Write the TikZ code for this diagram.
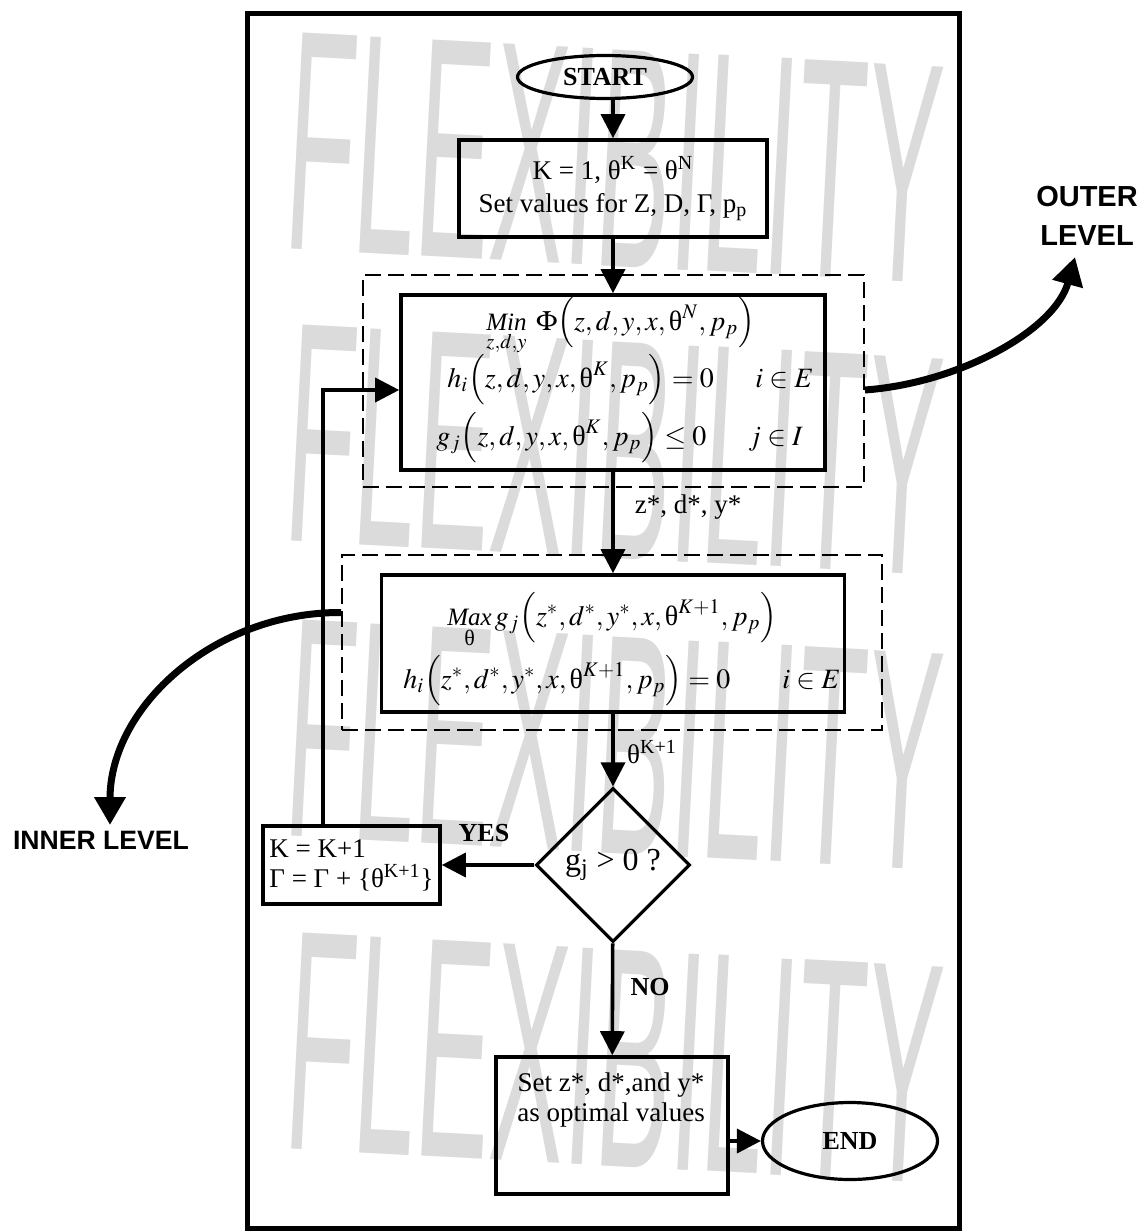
\documentclass[tikz,border=0pt]{standalone}
\usepackage{mathptmx}
\usepackage{fontspec}
\setmainfont{Liberation Serif}
\newfontfamily\lvlfont{Liberation Sans}
\usepackage{tikz}
\usetikzlibrary{shapes.geometric,arrows.meta,positioning}
\newcommand\uth{\mbox{θ}}
\newcommand\cmm{{,}\mkern2mu}
\newcommand\smallit{\fontsize{12.5}{12.5}\selectfont\itshape}
\tikzset{
  proc/.style={
    shape = rectangle,
    draw,
    line width = 1.8pt,
    inner sep = 0pt
  },
}
\tikzset{
  terminal/.style={
    shape = ellipse,
    draw,
    line width = 1.6pt,
    inner sep = 0pt,
    font = \fontsize{13}{15}\selectfont\bfseries
  },
}
\tikzset{
  decision/.style={
    shape = diamond,
    draw,
    aspect = 1,
    line width = 1.6pt,
    inner sep = 0pt
  },
}
\tikzset{
  region/.style={
    draw,
    line width = 0.9pt,
    dash pattern = on 8pt off 3.5pt,
    inner sep = 0pt
  },
  flow/.style={
    line width = 1.8pt,
    -{Triangle[length=12pt,width=12pt]}
  },
  lvlarrow/.style={
    line width = 3.5pt,
    -{Triangle[length=14pt,width=15pt]}
  },
  flowtag/.style={
    font = \fontsize{13}{15}\selectfont\bfseries,
    inner sep = 1pt
  },
  eq/.style={
    anchor = base west,
    font = \fontsize{14}{16}\selectfont,
    inner sep = 0pt
  },
  lvltext/.style={
    font = \lvlfont\bfseries\fontsize{14.5}{19.5}\selectfont,
    align = center,
    inner sep = 0pt
  },
  wmark/.style={
    font = \lvlfont\fontsize{40}{40}\selectfont,
    text = black!14,
    inner sep = 0pt,
    rotate = -3, xscale = 1.4, yscale = 3.93,
    transform shape
  }
}

\begin{document}
\begin{tikzpicture}[x=0.5pt,y=-0.5pt,
    every node/.style={font=\fontsize{13.5}{16.5}\selectfont}]
        \useasboundingbox (0,0) rectangle (1146,1231);

        % background lettering
        \foreach \wy/\wn in {158/1,450/2,745/3,1058/4}
            \node[wmark] (wm\wn) at (614,\wy) {FLEXIBILITY};

        \draw[line width=2.5pt] (247,13) rectangle (959,1228);

        \node[terminal, minimum width=87.5pt, minimum height=21.5pt] (start) at (605,77) {START};
        \node[proc, minimum width=154pt, minimum height=48.5pt, align=center] (set) at (613,188.5)
            {K = 1, θ\textsuperscript{K} = θ\textsuperscript{N}\\Set values for Z, D, Γ, p\textsubscript{p}};

        \node[region, minimum width=250.5pt, minimum height=106pt] (outerreg) at (613.5,381) {};
        \node[proc, minimum width=212pt, minimum height=87.5pt] (minbox) at (613,382.5) {};
        \node[eq] (minobj) at (486,330) {$\mathop{\mbox{\smallit Min}}\limits_{z,d,y}\;\Phi\Bigl(z\cmm d\cmm y\cmm x\cmm \uth^{N}\cmm p_p\Bigr)$};
        \node[eq] (hcon) at (447,387) {$h_i\Bigl(z\cmm d\cmm y\cmm x\cmm \uth^{K}\cmm p_p\Bigr)=0$};
        \node[eq] (hset) at (755,387) {$i\in E$};
        \node[eq] (gcon) at (436,445) {$g_j\Bigl(z\cmm d\cmm y\cmm x\cmm \uth^{K}\cmm p_p\Bigr)\le 0$};
        \node[eq] (gset) at (748,445) {$j\in I$};

        \node[region, minimum width=270pt, minimum height=87.5pt] (innerreg) at (612,642.5) {};
        \node[proc, minimum width=231.5pt, minimum height=68.5pt] (maxbox) at (613,643.5) {};
        \node[eq] (maxobj) at (447,625) {$\mathop{\mbox{\smallit Max}}\limits_{\mbox{\fontsize{11}{11}\selectfont θ}} g_j\Bigl(z^*\cmm d^*\cmm y^*\cmm x\cmm \uth^{K+1}\cmm p_p\Bigr)$};
        \node[eq] (hmax) at (403,688) {$h_i\Bigl(z^*\cmm d^*\cmm y^*\cmm x\cmm \uth^{K+1}\cmm p_p\Bigr)=0$};
        \node[eq] (hmaxset) at (782,688) {$i\in E$};

        \node[] (zlab) at (688,507) {z*, d*, y*};
        \node[] (thlab) at (652,752) {θ\textsuperscript{K+1}};

        \node[decision, minimum width=77pt, minimum height=77pt, font=\fontsize{16}{18}\selectfont] (dec) at (613,865) {g\textsubscript{j} > 0 ?};
        \node[proc, minimum width=88.5pt, minimum height=39pt, align=left, font=\fontsize{13.5}{15}\selectfont] (kbox) at (351.5,865)
            {K = K+1\\Γ = Γ + \{θ\textsuperscript{K+1}\}};
        \node[flowtag] (yes) at (484,833) {YES};
        \node[flowtag] (no) at (650,987) {NO};

        \node[proc, minimum width=116pt, minimum height=68.5pt] (final) at (612,1125.5) {};
        \node[align=center, inner sep=0pt, font=\fontsize{13.5}{15}\selectfont] (finaltxt) at (611,1100) {Set z*, d*,and y*\\as optimal values};
        \node[terminal, minimum width=87.5pt, minimum height=38.5pt] (finish) at (850,1141) {END};

        \node[lvltext] (outerlbl) at (1087,216) {OUTER\\LEVEL};
        \node[lvltext, font=\lvlfont\bfseries\fontsize{13.3}{16}\selectfont] (innerlbl) at (101,840) {INNER LEVEL};
        \coordinate (outtip) at (1075,257);
        \coordinate (intip) at (110,825);

        \draw[flow] (start.south -| set.north) -- (set.north);
        \draw[flow] (set) -- (minbox);
        \draw[flow] (minbox) -- (maxbox);
        \draw[flow] (maxbox) -- (dec);
        \draw[flow] (dec) -- (kbox);
        \draw[flow] (dec) -- (final);
        \draw[flow] (final.east |- finish) -- (finish.west);
        \draw[flow] ([xshift=-14.25pt]kbox.north) |- ([yshift=-3.75pt]minbox.west);

        \draw[lvlarrow] ([yshift=-4.5pt]outerreg.east) .. controls (960,383) and (1055,330) .. (outtip);
        \draw[lvlarrow] ([yshift=15pt]innerreg.west) .. controls (214,612) and (110,707) .. (intip);
\end{tikzpicture}
\end{document}
